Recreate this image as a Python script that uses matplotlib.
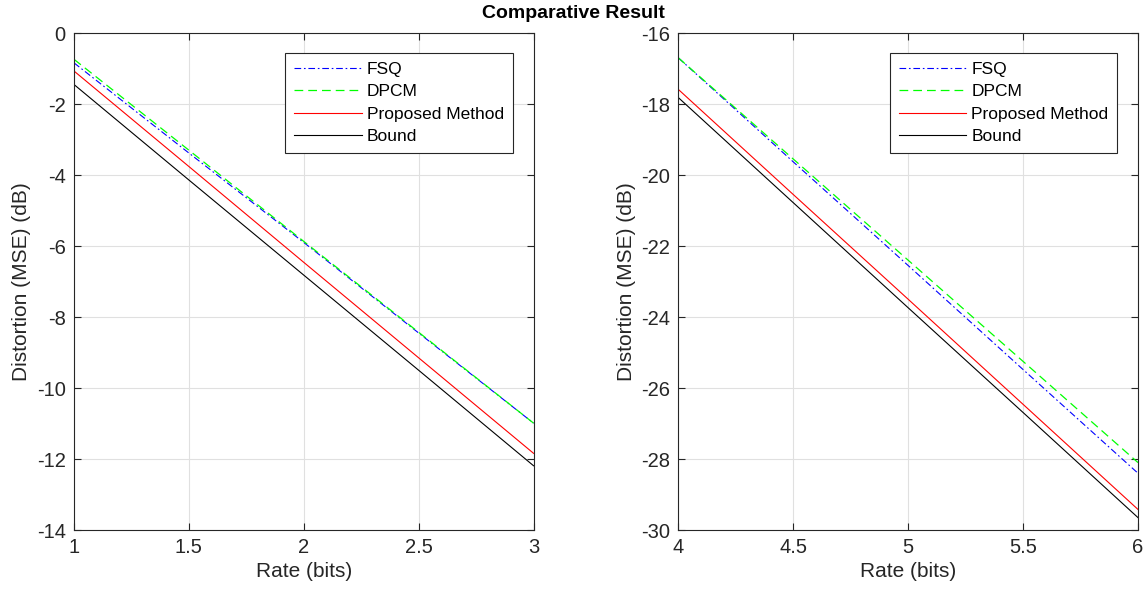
import numpy as np
import matplotlib.pyplot as plt

plt.rcParams['font.family'] = ['Liberation Sans', 'DejaVu Sans']
plt.rcParams['axes.unicode_minus'] = False

rate1 = [1.0, 1.5, 2.0, 2.5, 3.0]
fsq1 = [-0.84, -3.38, -5.90, -8.45, -10.99]
dpcm1 = [-0.74, -3.30, -5.87, -8.43, -10.99]
prop1 = [-1.07, -3.76, -6.46, -9.15, -11.84]
bound1 = [-1.45, -4.14, -6.82, -9.50, -12.19]

rate2 = [4.0, 4.5, 5.0, 5.5, 6.0]
fsq2 = [-16.70, -19.63, -22.55, -25.48, -28.40]
dpcm2 = [-16.70, -19.55, -22.40, -25.25, -28.10]
prop2 = [-17.59, -20.55, -23.50, -26.46, -29.42]
bound2 = [-17.82, -20.78, -23.74, -26.69, -29.65]

names = ['FSQ', 'DPCM', 'Proposed Method', 'Bound']

fig = plt.figure(figsize=(11.46, 5.98), dpi=100)
ax1 = fig.add_axes([0.0646, 0.1137, 0.401, 0.831])
ax2 = fig.add_axes([0.592, 0.1137, 0.401, 0.831])


def draw(ax, r, f, d, p, b, xlim, ylim):
    ax.plot(r, f, color='b', ls=(0, (6, 2.5, 1.5, 2.5)), lw=0.8, label=names[0])
    ax.plot(r, d, color='#00ff00', ls=(0, (7, 4)), lw=0.9, label=names[1])
    ax.plot(r, p, color='r', ls='-', lw=0.8, label=names[2])
    ax.plot(r, b, color='k', ls='-', lw=0.8, label=names[3])
    ax.set_xlim(xlim)
    ax.set_ylim(ylim)
    ax.grid(True, color='#e0e0e0', lw=0.8)
    ax.set_axisbelow(True)
    ax.tick_params(direction='in', top=True, right=True, labelsize=14.5,
                   length=5, pad=6, color='#262626', labelcolor='#262626')
    for s in ax.spines.values():
        s.set_color('#262626')
        s.set_linewidth(0.8)
    ax.set_xlabel('Rate (bits)', fontsize=15, color='#262626', labelpad=3)
    ax.set_ylabel('Distortion (MSE) (dB)', fontsize=15, color='#262626', labelpad=4)
    leg = ax.legend(loc='upper right', bbox_to_anchor=(0.955, 0.96),
                    fontsize=12.5, handlelength=3.9, fancybox=False,
                    framealpha=1, edgecolor='#262626', borderpad=0.5,
                    labelspacing=0.42, handletextpad=0.3, borderaxespad=0)
    leg.get_frame().set_linewidth(0.8)


draw(ax1, rate1, fsq1, dpcm1, prop1, bound1, (1, 3), (-14, 0))
ax1.set_xticks([1, 1.5, 2, 2.5, 3])
ax1.set_xticklabels(['1', '1.5', '2', '2.5', '3'])
ax1.set_yticks(np.arange(-14, 1, 2))

draw(ax2, rate2, fsq2, dpcm2, prop2, bound2, (4, 6), (-30, -16))
ax2.set_xticks([4, 4.5, 5, 5.5, 6])
ax2.set_xticklabels(['4', '4.5', '5', '5.5', '6'])
ax2.set_yticks(np.arange(-30, -15, 2))

fig.text(0.5, 0.978, 'Comparative Result', ha='center', va='center',
         fontsize=14, fontweight='bold')

fig.savefig('out.png', dpi=100)
